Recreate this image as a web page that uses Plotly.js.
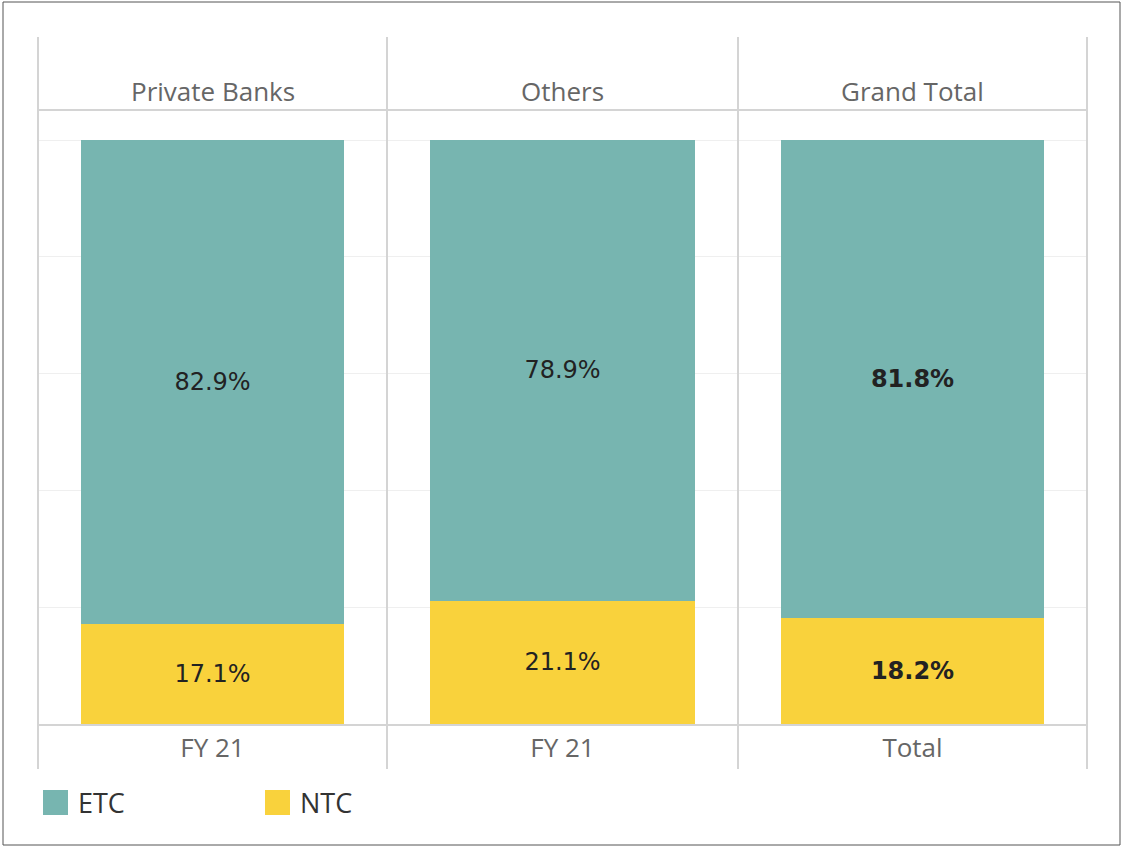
<!DOCTYPE html>
<html>
<head>
<meta charset="utf-8">
<script src="https://cdn.plot.ly/plotly-3.0.1.min.js"></script>
<style>html,body{margin:0;padding:0;background:#fff;}#chart{width:1122px;height:846px;}</style>
</head>
<body>
<div id="chart"></div>
<script>
// ---- data ----
const panelTitles = ['Private Banks', 'Others', 'Grand Total'];
const xLabels = ['FY 21', 'FY 21', 'Total'];
const etcValues = [82.9, 78.9, 81.8];
const ntcValues = [17.1, 21.1, 18.2];
const seriesNames = ['ETC', 'NTC'];
const seriesColors = ['#77B5B0', '#F9D23C'];

// ---- layout geometry ----
const W = 1122, H = 846;
const M = {l: 38, r: 35, t: 110, b: 122};
const PW = W - M.l - M.r, PH = H - M.t - M.b;
const px = v => (v - M.l) / PW;
const py = v => (H - M.b - v) / PH;
const panelEdges = [38, 387, 738, 1087];

const labelFont = 'DejaVu Sans, Verdana, sans-serif';
const uiFont = 'Open Sans, sans-serif';

const traces = [];
const seriesOrder = [1, 0]; // NTC at bottom, ETC on top
for (let i = 0; i < panelTitles.length; i++) {
  const axSuffix = i === 0 ? '' : String(i + 1);
  const bold = i === panelTitles.length - 1;
  for (let k = 0; k < 2; k++) {
    const s = seriesOrder[k];
    const vals = s === 0 ? etcValues : ntcValues;
    traces.push({
      type: 'bar',
      name: seriesNames[s],
      x: [xLabels[i]],
      y: [vals[i]],
      xaxis: 'x' + axSuffix,
      yaxis: 'y',
      width: 0.754,
      marker: {color: seriesColors[s], line: {width: 0}},
      texttemplate: bold ? '<b>%{y:.1f}%</b>' : '%{y:.1f}%',
      textposition: 'inside',
      insidetextanchor: 'middle',
      textangle: 0,
      textfont: {family: labelFont, size: 24, color: '#222222'},
      hoverinfo: 'skip',
      showlegend: false
    });
  }
}

const layout = {
  width: W, height: H,
  margin: M,
  paper_bgcolor: '#ffffff',
  plot_bgcolor: '#ffffff',
  barmode: 'stack',
  showlegend: false,
  yaxis: {
    range: [0, 105.14], tick0: 0, dtick: 20,
    showticklabels: false, showgrid: true, gridcolor: '#efefef', gridwidth: 1,
    zeroline: false, showline: false, fixedrange: true
  },
  annotations: [],
  shapes: []
};

for (let i = 0; i < 3; i++) {
  const key = i === 0 ? 'xaxis' : 'xaxis' + (i + 1);
  layout[key] = {
    domain: [px(panelEdges[i]), px(panelEdges[i + 1])],
    anchor: 'y',
    type: 'category',
    range: [-0.5, 0.5],
    showgrid: false, zeroline: false,
    showline: true, linecolor: '#d4d4d4', linewidth: 2,
    ticks: '', ticklabelstandoff: 0,
    tickfont: {family: uiFont, size: 26, color: '#666666'},
    fixedrange: true
  };
  layout.annotations.push({
    xref: 'paper', yref: 'paper',
    x: (px(panelEdges[i]) + px(panelEdges[i + 1])) / 2, y: py(91),
    xanchor: 'center', yanchor: 'middle', showarrow: false,
    text: panelTitles[i],
    font: {family: uiFont, size: 26, color: '#666666'}
  });
}

// vertical panel separators
panelEdges.forEach(e => {
  layout.shapes.push({type: 'line', xref: 'paper', yref: 'paper',
    x0: px(e), x1: px(e), y0: py(37), y1: py(769),
    line: {color: '#d4d4d4', width: 2}});
});
// header bottom line
layout.shapes.push({type: 'line', xref: 'paper', yref: 'paper',
  x0: px(38), x1: px(1087), y0: py(110), y1: py(110),
  line: {color: '#d4d4d4', width: 2}});

// custom legend
const legendX = [43, 265];
for (let s = 0; s < 2; s++) {
  layout.shapes.push({type: 'rect', xref: 'paper', yref: 'paper',
    x0: px(legendX[s]), x1: px(legendX[s] + 25), y0: py(790), y1: py(815),
    fillcolor: seriesColors[s], line: {width: 0}});
  layout.annotations.push({xref: 'paper', yref: 'paper',
    x: px(legendX[s] + 33), y: py(802), xanchor: 'left', yanchor: 'middle',
    showarrow: false, text: seriesNames[s],
    font: {family: uiFont, size: 27, color: '#333333'}});
}

// outer border
layout.shapes.push({type: 'rect', xref: 'paper', yref: 'paper',
  x0: px(3), x1: px(1120), y0: py(2), y1: py(845),
  line: {color: '#555555', width: 1}, fillcolor: 'rgba(0,0,0,0)'});

Plotly.newPlot('chart', traces, layout, {displayModeBar: false, staticPlot: true});
</script>
</body>
</html>
